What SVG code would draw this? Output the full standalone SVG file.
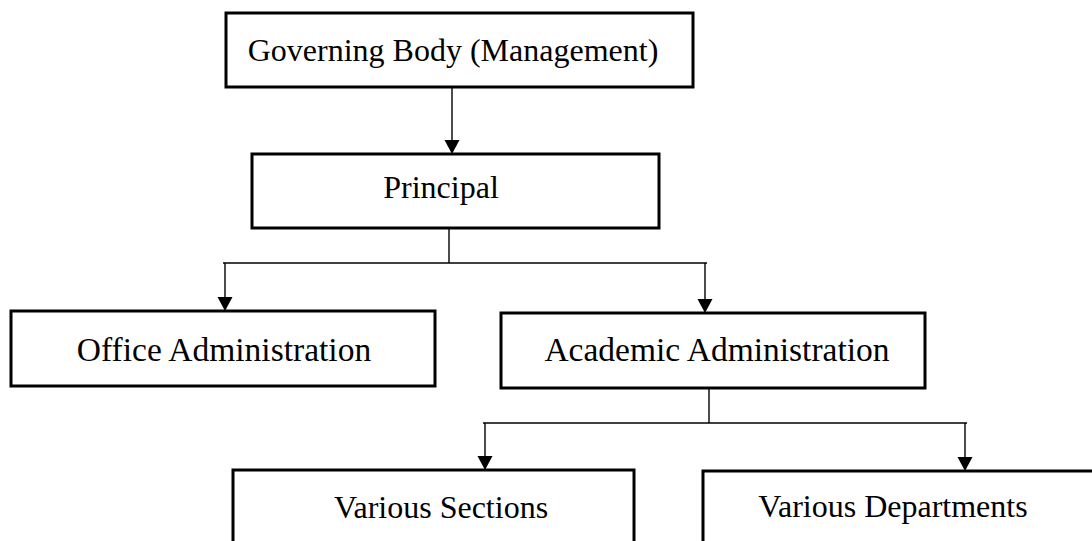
<svg xmlns="http://www.w3.org/2000/svg" width="1092" height="541" viewBox="0 0 1092 541">
<style>
.box{fill:#fff;stroke:#000;stroke-width:3}
.lbl{font-family:"Liberation Serif","Times New Roman",serif;font-size:32px;fill:#000;text-anchor:middle}
.ln{fill:none;stroke:#000;stroke-width:1.4}
.ah{fill:#000}
</style>
<rect width="1092" height="541" fill="#fff"/>
<g id="connectors">
<line class="ln" x1="452" y1="88" x2="452" y2="142"/>
<polygon class="ah" points="444.5,140 459.5,140 452,154"/>
<line class="ln" x1="449" y1="229" x2="449" y2="263"/>
<line class="ln" x1="223" y1="263" x2="707" y2="263"/>
<line class="ln" x1="225" y1="263" x2="225" y2="299"/>
<polygon class="ah" points="217.5,297 232.5,297 225,311"/>
<line class="ln" x1="705" y1="263" x2="705" y2="301"/>
<polygon class="ah" points="697.5,299 712.5,299 705,313"/>
<line class="ln" x1="709" y1="389" x2="709" y2="423"/>
<line class="ln" x1="483" y1="423" x2="967" y2="423"/>
<line class="ln" x1="485" y1="423" x2="485" y2="458"/>
<polygon class="ah" points="477.5,456 492.5,456 485,470"/>
<line class="ln" x1="965" y1="423" x2="965" y2="459"/>
<polygon class="ah" points="957.5,457 972.5,457 965,471"/>
</g>
<g id="governing">
<rect class="box" x="226" y="13" width="467" height="74"/>
<text class="lbl" x="453" y="61">Governing Body (Management)</text>
</g>
<g id="principal">
<rect class="box" x="252" y="154" width="407" height="74"/>
<text class="lbl" x="441" y="198">Principal</text>
</g>
<g id="office">
<rect class="box" x="11" y="311" width="424" height="75"/>
<text class="lbl" x="224" y="361" style="font-size:33.5px">Office Administration</text>
</g>
<g id="academic">
<rect class="box" x="501" y="313" width="424" height="75"/>
<text class="lbl" x="717" y="361" style="font-size:33.5px">Academic Administration</text>
</g>
<g id="sections">
<rect class="box" x="233" y="470" width="401" height="100"/>
<text class="lbl" x="441" y="518">Various Sections</text>
</g>
<g id="departments">
<rect class="box" x="703" y="471" width="420" height="100"/>
<text class="lbl" x="893" y="517">Various Departments</text>
</g>
</svg>
